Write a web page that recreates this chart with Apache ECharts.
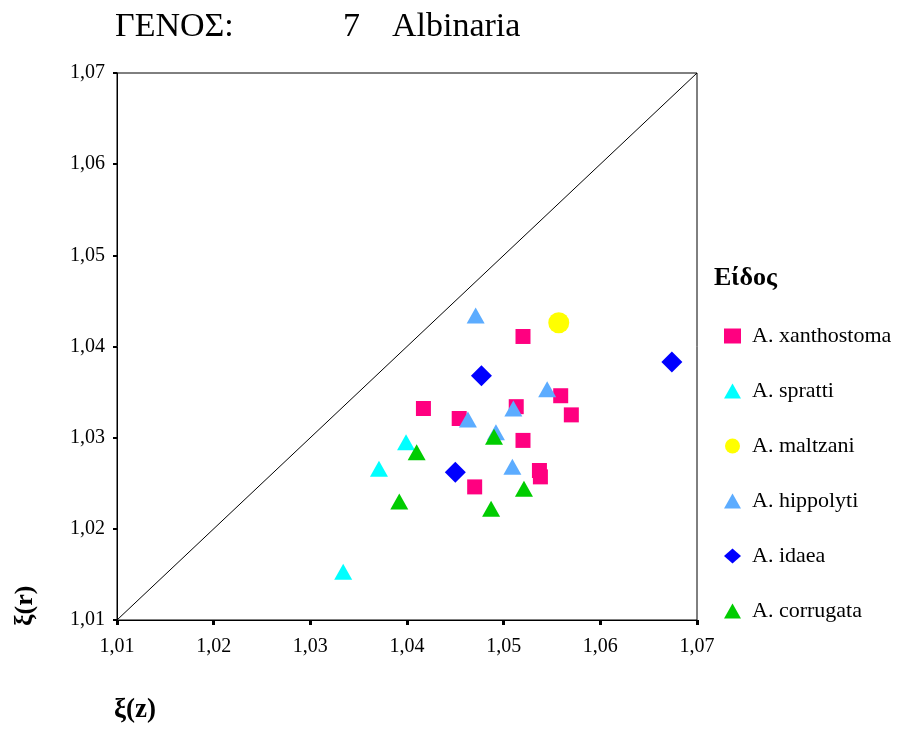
<!DOCTYPE html>
<html><head><meta charset="utf-8">
<script src="https://cdn.jsdelivr.net/npm/echarts@6/dist/echarts.min.js"></script>
<style>html,body{margin:0;padding:0;background:#fff}#c{width:900px;height:731px}</style>
</head><body><div id="c"></div>
<script>
var seriesNames = ['A. xanthostoma','A. spratti','A. maltzani','A. hippolyti','A. idaea','A. corrugata'];
var xanthostoma = [[1.0520,1.0411],[1.0559,1.0346],[1.0417,1.0332],[1.0513,1.0334],[1.0570,1.0325],[1.0454,1.0321],[1.0520,1.0297],[1.0537,1.0264],[1.0538,1.0257],[1.0470,1.0246]];
var spratti = [[1.0399,1.0295],[1.0371,1.0266],[1.0334,1.0153]];
var maltzani = [[1.0557,1.0426]];
var hippolyti = [[1.0471,1.0434],[1.0545,1.0353],[1.0510,1.0332],[1.0463,1.0320],[1.0492,1.0306],[1.0509,1.0268]];
var idaea = [[1.0477,1.0368],[1.0450,1.0262],[1.0674,1.0383]];
var corrugata = [[1.0490,1.0301],[1.0410,1.0284],[1.0521,1.0244],[1.0392,1.0230],[1.0487,1.0222]];
var diagonal = [[1.01,1.01],[1.07,1.07]];
var tickValues = [1.01,1.02,1.03,1.04,1.05,1.06,1.07];

var serif = '"Liberation Serif","DejaVu Serif",serif';
var styles = [
  {symbol:'rect', size:15, color:'#FF0080'},
  {symbol:'triangle', size:[18,16], color:'#00FFFF'},
  {symbol:'circle', size:21, color:'#FFFF00'},
  {symbol:'triangle', size:[18,16], color:'#5CACFF'},
  {symbol:'diamond', size:[21,21], color:'#0000FF'},
  {symbol:'triangle', size:[18,16], color:'#00CC00'}
];
var dataSets = [xanthostoma, spratti, maltzani, hippolyti, idaea, corrugata];
function fmt(v){ return v.toFixed(2).replace('.', ','); }

var series = [{
  type:'line', data: diagonal, symbol:'none', silent:true,
  lineStyle:{color:'#000', width:1}, z:1
}];
dataSets.forEach(function(d,i){
  series.push({
    name: seriesNames[i], type:'scatter', data:d,
    symbol: styles[i].symbol, symbolSize: styles[i].size,
    itemStyle:{color: styles[i].color, opacity:1}, z:3
  });
});

var chart = echarts.init(document.getElementById('c'));
chart.setOption({
  animation:false,
  backgroundColor:'#fff',
  grid:{left:117, top:73, right:203, bottom:111, show:true, borderColor:'#000', borderWidth:1},
  xAxis:{type:'value', min:1.01, max:1.07, interval:0.01,
    axisLine:{show:true, lineStyle:{color:'#000', width:1}},
    axisTick:{show:true, length:5, lineStyle:{color:'#000', width:3}},
    splitLine:{show:false},
    axisLabel:{color:'#000', fontFamily:serif, fontSize:20, margin:17, formatter:fmt}
  },
  yAxis:{type:'value', min:1.01, max:1.07, interval:0.01,
    axisLine:{show:true, lineStyle:{color:'#000', width:1}},
    axisTick:{show:true, length:4, lineStyle:{color:'#000', width:2}},
    splitLine:{show:false},
    axisLabel:{color:'#000', fontFamily:serif, fontSize:20, margin:12, padding:[0,0,8,0], formatter:fmt}
  },
  legend:{
    orient:'vertical', left:719, top:320, itemGap:33,
    itemWidth:17, itemHeight:15,
    textStyle:{fontFamily:serif, fontSize:22, color:'#000', padding:[0,0,0,6]},
    data: seriesNames.map(function(n,i){
      return {name:n, icon:styles[i].symbol};
    })
  },
  graphic:[
    {type:'text', left:115, top:10, style:{text:'ΓΕΝΟΣ:', font:'34px '+serif, fill:'#000'}},
    {type:'text', left:343, top:10, style:{text:'7', font:'34px '+serif, fill:'#000'}},
    {type:'text', left:392, top:10, style:{text:'Albinaria', font:'34px '+serif, fill:'#000'}},
    {type:'text', left:714, top:265, style:{text:'Είδος', font:'bold 26px '+serif, fill:'#000'}},
    {type:'text', left:114, top:697, style:{text:'ξ(z)', font:'bold 27px '+serif, fill:'#000'}},
    {type:'text', x:12, y:626, rotation:Math.PI/2, style:{text:'ξ(r)', font:'bold 26px '+serif, fill:'#000'}}
  ],
  series: series
});
</script></body></html>
